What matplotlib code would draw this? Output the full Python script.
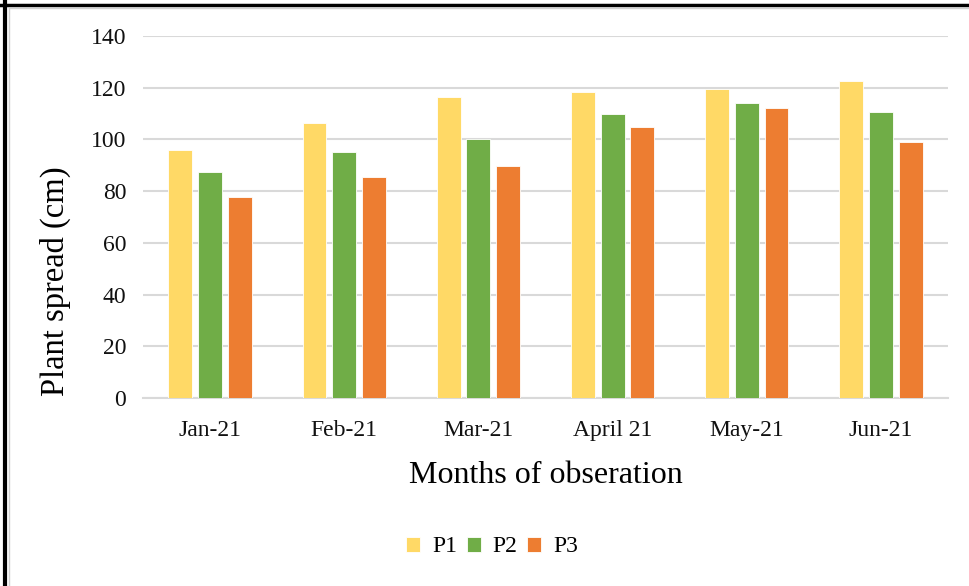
import matplotlib.pyplot as plt
import numpy as np
from matplotlib.lines import Line2D

months = ['Jan-21', 'Feb-21', 'Mar-21', 'April 21', 'May-21', 'Jun-21']
p1 = [96, 106.5, 116.5, 118.3, 119.6, 122.7]
p2 = [87.3, 95.3, 100.2, 109.8, 113.9, 110.8]
p3 = [77.9, 85.3, 89.6, 104.7, 112.1, 99.0]
series = ['P1', 'P2', 'P3']
colors = ['#FFD966', '#70AD47', '#ED7D31']

plt.rcParams['font.family'] = ['Liberation Serif', 'DejaVu Serif']

fig = plt.figure(figsize=(9.7, 5.86), dpi=100)
ax = fig.add_axes([143 / 970, 188 / 586, 805 / 970, 362 / 586])

x = np.arange(len(months))
width = 0.178
step = 0.222
for i, (vals, name, c) in enumerate(zip([p1, p2, p3], series, colors)):
    ax.bar(x + (i - 1) * step, vals, width, color=c, label=name,
           edgecolor='white', linewidth=0.6, zorder=3)

ax.set_xlim(-0.5, len(months) - 0.5)
ax.set_ylim(0, 140)
ax.set_yticks(range(0, 141, 20))
ax.set_xticks(x)
ax.set_xticklabels(months)
ax.grid(axis='y', color='#d9d9d9', linewidth=1.5, zorder=0)
for s in ['top', 'right', 'left']:
    ax.spines[s].set_visible(False)
ax.spines['bottom'].set_color('#d9d9d9')
ax.spines['bottom'].set_linewidth(1.5)
ax.tick_params(axis='both', length=0, labelsize=17, colors='#111111')
ax.tick_params(axis='y', pad=12)
ax.tick_params(axis='x', pad=16)

ax.set_ylabel('Plant spread (cm)', fontsize=23.5)
ax.yaxis.set_label_coords(-0.089, 0.323)
ax.set_xlabel('Months of obseration', fontsize=23, labelpad=14)

fig.legend(loc='center', bbox_to_anchor=(492 / 970, 1 - 547 / 586), ncol=3,
           frameon=False, fontsize=17, handlelength=0.6, handleheight=0.6,
           handletextpad=0.5, columnspacing=0.4)

# frame around the picture
fig.add_artist(Line2D([0, 1], [1 - 4.5 / 586] * 2, transform=fig.transFigure,
                      color='black', linewidth=2.5))
fig.add_artist(Line2D([5.5 / 970] * 2, [0, 1], transform=fig.transFigure,
                      color='black', linewidth=3))
fig.add_artist(Line2D([9 / 970, 1], [1 - 7.5 / 586] * 2, transform=fig.transFigure,
                      color='#d0d0d0', linewidth=1))
fig.add_artist(Line2D([9.5 / 970] * 2, [0, 1 - 7.5 / 586], transform=fig.transFigure,
                      color='#d0d0d0', linewidth=1))

fig.savefig('out.png', dpi=100)
